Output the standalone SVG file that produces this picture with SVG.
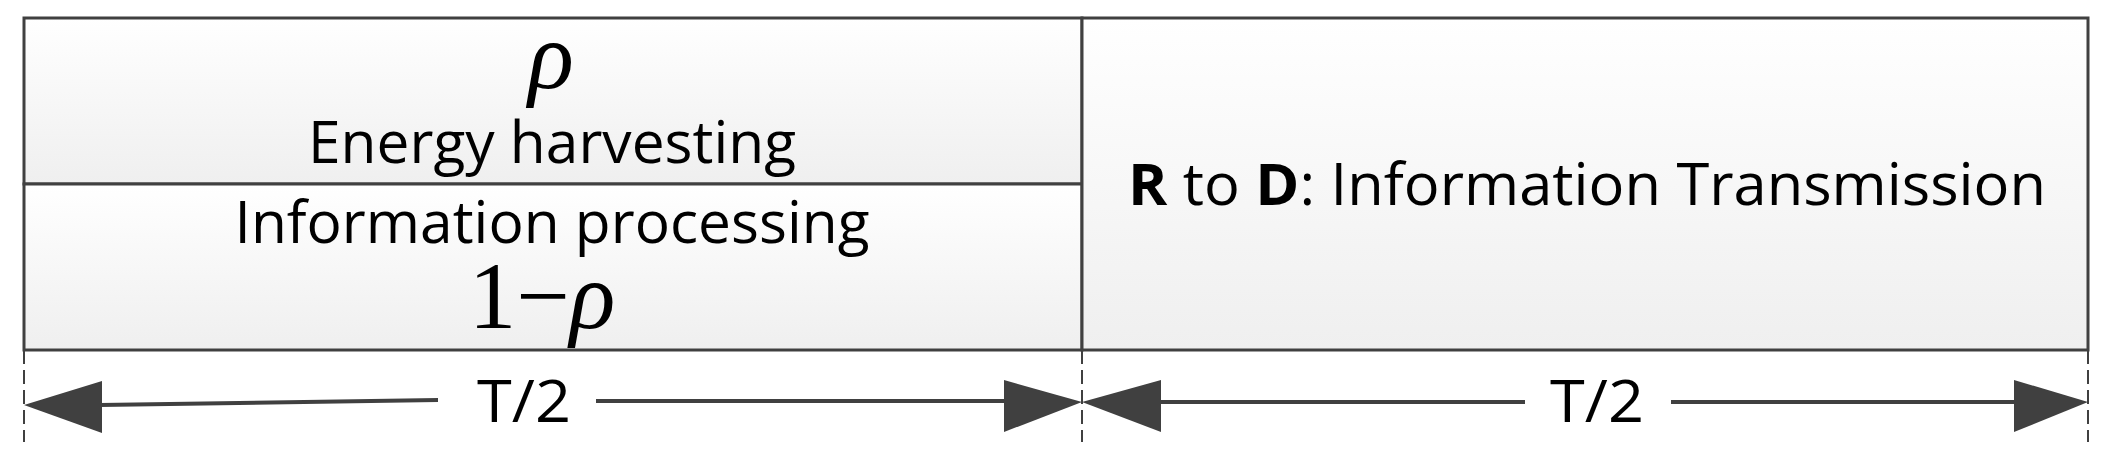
<svg xmlns="http://www.w3.org/2000/svg" width="2103" height="459" viewBox="0 0 2103 459">
<defs>
<linearGradient id="g" x1="0" y1="0" x2="0" y2="1"><stop offset="0" stop-color="#ffffff"/><stop offset="1" stop-color="#efefef"/></linearGradient>
<style>
.box{fill:url(#g);stroke:#404040;stroke-width:3}
.t{font-family:"Open Sans","Liberation Sans",sans-serif;fill:#000}
.m{font-family:"Liberation Serif",serif;fill:#000}
.ln{stroke:#404040;stroke-width:4;fill:none}
.dash{stroke:#404040;stroke-width:2;stroke-dasharray:14 6}
.ah{fill:#404040}
</style>
</defs>
<g id="node-left-top"><rect class="box" x="24" y="18" width="1058" height="166"/>
<text class="m" x="551" y="88" font-size="95" font-style="italic" text-anchor="middle">ρ</text>
<text class="t" x="552" y="163" font-size="58" text-anchor="middle" textLength="488" lengthAdjust="spacingAndGlyphs">Energy harvesting</text></g>
<g id="node-left-bottom"><rect class="box" x="24" y="184" width="1058" height="166"/>
<text class="t" x="552" y="243" font-size="58" text-anchor="middle" textLength="635" lengthAdjust="spacingAndGlyphs">Information processing</text>
<text class="m" x="542" y="328" font-size="95" text-anchor="middle"><tspan>1−</tspan><tspan font-style="italic">ρ</tspan></text></g>
<g id="node-right"><rect class="box" x="1082" y="18" width="1006" height="332"/>
<text class="t" x="1587" y="205" font-size="58" text-anchor="middle" textLength="918" lengthAdjust="spacingAndGlyphs"><tspan font-weight="bold">R</tspan> to <tspan font-weight="bold">D</tspan>: Information Transmission</text></g>
<g id="connectors">
<line class="dash" x1="24" y1="350" x2="24" y2="442"/>
<line class="dash" x1="1082" y1="350" x2="1082" y2="442"/>
<line class="dash" x1="2088" y1="350" x2="2088" y2="442"/>
<line class="ln" x1="100" y1="405" x2="438" y2="400"/>
<line class="ln" x1="596" y1="401" x2="1008" y2="401"/>
<polygon class="ah" points="24,405 102,381 102,433"/>
<polygon class="ah" points="1082,402 1004,380 1004,432"/>
<line class="ln" x1="1158" y1="402" x2="1525" y2="402"/>
<line class="ln" x1="1671" y1="402" x2="2016" y2="402"/>
<polygon class="ah" points="1082,402 1161,380 1161,432"/>
<polygon class="ah" points="2088,402 2014,380 2014,432"/>
<text class="t" x="524" y="422" font-size="58" text-anchor="middle" textLength="94" lengthAdjust="spacingAndGlyphs">T/2</text>
<text class="t" x="1597" y="422" font-size="58" text-anchor="middle" textLength="94" lengthAdjust="spacingAndGlyphs">T/2</text>
</g>
</svg>
